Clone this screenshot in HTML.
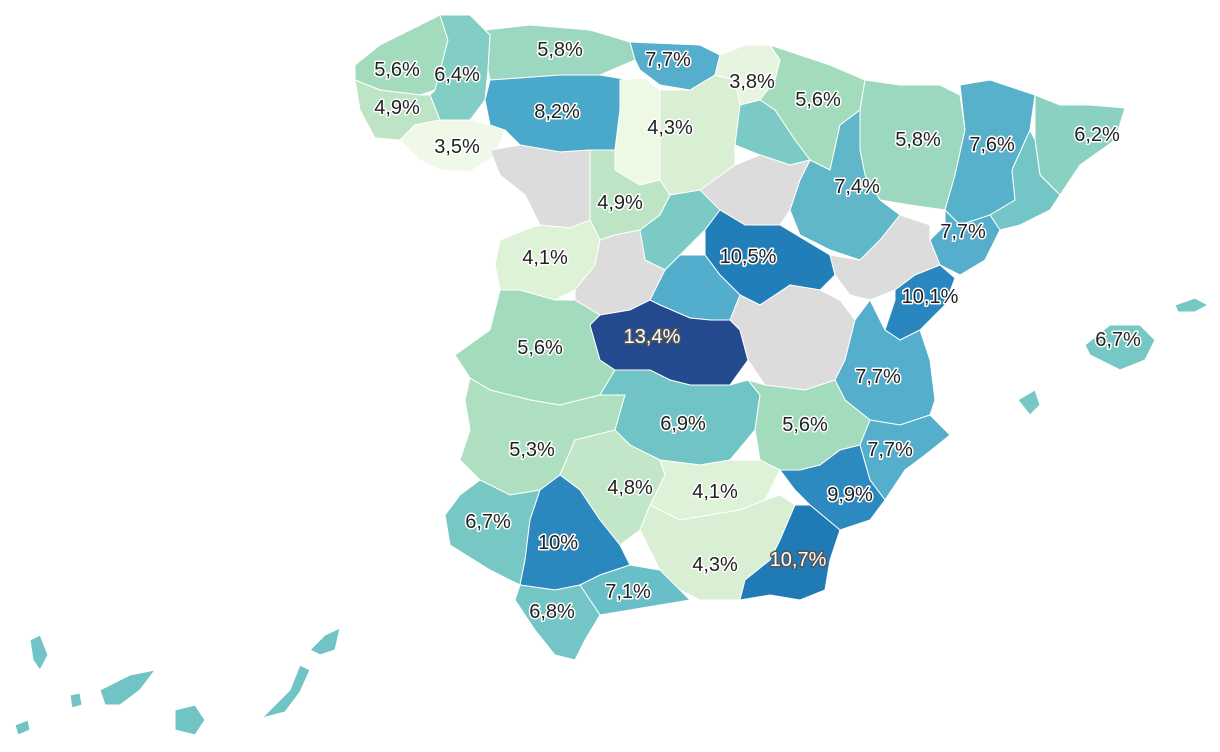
<!DOCTYPE html>
<html>
<head>
<meta charset="utf-8">
<style>
html,body{margin:0;padding:0;background:#fff;}
svg{display:block;}
text{font-family:"Liberation Sans",sans-serif;font-size:20px;text-anchor:middle;dominant-baseline:central;paint-order:stroke;stroke-linejoin:round;}
</style>
</head>
<body>
<svg id="map" width="1220" height="752" viewBox="0 0 1220 752"></svg>
<script>
// data
const provinces = ["coruna","lugo","pontevedra","ourense","asturias","cantabria","leon","palencia","burgos","bizkaia","navarra","rioja","huesca","zaragoza","lleida","girona","barcelona","tarragona","zamora","valladolid","soria","segovia","salamanca","avila","guadalajara","madrid","teruel","castellon","caceres","toledo","cuenca","valencia","badajoz","ciudadreal","albacete","alicante","murcia","cordoba","jaen","huelva","sevilla","granada","almeria","malaga","cadiz","baleares","canarias"];
const values = [5.6,6.4,4.9,3.5,5.8,7.7,8.2,3.6,4.3,3.8,5.6,6.6,5.8,7.4,7.6,6.2,6.8,7.7,null,4.9,null,6.6,4.1,null,10.5,7.8,null,10.1,5.6,13.4,null,7.7,5.3,6.9,5.6,7.7,9.9,4.8,4.1,6.7,10,4.3,10.7,7.1,6.8,6.7,6.9];
const shownLabels = ["5,6%","6,4%","4,9%","3,5%","5,8%","7,7%","8,2%","","4,3%","3,8%","5,6%","","5,8%","7,4%","7,6%","6,2%","","7,7%","","4,9%","","","4,1%","","10,5%","","","10,1%","5,6%","13,4%","","7,7%","5,3%","6,9%","5,6%","7,7%","9,9%","4,8%","4,1%","6,7%","10%","4,3%","10,7%","7,1%","6,8%","6,7%",""];

// geometry (not data)
const shapes = {
coruna:[[355,65,380,45,410,30,440,15,448,40,435,90,420,95,380,90,355,80]],
lugo:[[440,15,470,15,490,35,488,70,485,100,470,120,440,120,430,95,435,90,448,40]],
pontevedra:[[355,80,380,90,420,95,430,95,440,120,415,125,400,140,375,138,360,110]],
ourense:[[415,125,440,120,470,120,490,125,505,130,495,155,470,172,440,170,420,160,400,140]],
asturias:[[485,30,530,25,590,30,630,42,635,60,600,75,560,75,520,78,490,80,488,70,490,35]],
cantabria:[[630,42,700,45,720,55,715,75,690,90,660,85,640,70,635,60]],
leon:[[490,80,520,78,560,75,600,75,630,80,620,110,615,150,590,150,560,152,520,145,505,130,490,125,485,100]],
palencia:[[620,80,645,78,660,90,660,140,660,180,640,185,615,170,615,150,620,110]],
burgos:[[660,90,690,90,715,75,735,80,740,105,735,145,735,165,700,190,670,195,660,180,660,140]],
bizkaia:[[720,55,745,45,770,45,780,60,775,80,760,100,740,105,735,80,715,75]],
navarra:[[770,45,800,55,830,65,865,80,860,110,840,125,830,170,810,160,795,140,775,110,760,100,775,80,780,60]],
rioja:[[740,105,760,100,775,110,795,140,810,160,790,165,760,155,735,145]],
huesca:[[865,80,900,85,940,85,960,95,965,130,955,175,945,210,910,205,880,200,865,175,860,150,860,110]],
zaragoza:[[840,125,860,110,860,150,865,175,880,200,900,215,880,240,860,260,830,250,800,235,790,210,800,180,810,160,830,170]],
lleida:[[960,85,990,80,1035,95,1030,130,1012,170,1015,200,990,215,960,225,945,210,955,175,965,130]],
girona:[[1035,95,1060,105,1090,105,1125,108,1115,140,1080,165,1060,195,1040,175,1035,140]],
barcelona:[[1035,140,1040,175,1060,195,1050,210,1020,225,1000,230,990,215,1015,200,1012,170,1030,130]],
tarragona:[[945,210,960,225,990,215,1000,230,985,260,960,275,940,265,930,240,945,225]],
zamora:[[490,150,520,145,560,152,590,150,590,185,590,220,570,228,540,225,525,195,500,175]],
valladolid:[[590,150,615,150,615,170,640,185,660,180,670,195,660,215,640,230,615,235,600,240,590,220,590,185]],
soria:[[700,190,735,165,760,155,790,165,810,160,800,180,790,210,780,225,745,225,720,210]],
segovia:[[660,215,670,195,700,190,720,210,705,230,680,255,665,270,645,260,640,230]],
salamanca:[[500,240,525,230,540,225,570,228,590,220,600,240,595,265,575,290,555,300,520,290,500,290,495,265]],
avila:[[600,240,615,235,640,230,645,260,665,270,650,300,630,310,600,315,575,300,575,290,595,265]],
guadalajara:[[705,230,720,210,745,225,780,225,805,240,830,255,835,275,820,290,790,285,760,305,740,295,720,275,705,255]],
madrid:[[665,270,680,255,705,255,720,275,740,295,730,320,710,320,690,318,660,305,650,300]],
teruel:[[830,255,860,260,880,240,900,215,930,225,930,240,940,265,915,275,895,290,870,300,850,295,835,275]],
castellon:[[915,275,940,265,955,278,945,305,920,330,900,340,885,330,895,300,895,290]],
caceres:[[455,355,490,330,500,290,520,290,555,300,575,300,600,315,590,325,600,360,615,370,600,395,560,405,530,400,490,390,470,378]],
toledo:[[600,315,630,310,650,300,660,305,690,318,710,320,730,320,740,330,748,360,730,385,690,385,670,380,650,370,615,370,600,360,590,325]],
cuenca:[[740,295,760,305,790,285,820,290,840,300,855,320,845,360,835,380,805,390,765,385,748,360,740,330,730,320]],
valencia:[[855,320,870,300,885,330,900,340,920,330,930,360,935,400,930,415,900,425,870,420,845,400,835,380,845,360]],
badajoz:[[470,378,490,390,530,400,560,405,600,395,625,395,615,430,575,440,560,475,540,490,510,495,480,480,460,460,470,430,465,400]],
ciudadreal:[[615,370,650,370,670,380,690,385,730,385,748,380,760,395,755,430,730,460,700,465,660,460,630,445,615,430,625,395,600,395]],
albacete:[[748,380,765,385,805,390,835,380,845,400,870,420,860,445,840,450,820,465,800,470,780,470,760,460,755,430,760,395]],
alicante:[[870,420,900,425,930,415,950,435,925,455,905,470,885,500,870,480,860,445]],
murcia:[[860,445,870,480,885,500,870,520,840,530,810,505,795,490,780,470,800,470,820,465,840,450]],
cordoba:[[575,440,615,430,630,445,660,460,665,475,650,505,640,530,620,545,600,520,580,490,560,475]],
jaen:[[660,460,700,465,730,460,760,460,780,470,765,500,740,510,710,515,680,520,650,505,665,475]],
huelva:[[460,495,480,480,510,495,540,490,530,520,525,560,520,585,490,570,450,545,445,515]],
sevilla:[[540,490,560,475,580,490,600,520,620,545,630,565,600,575,580,585,555,590,520,585,525,560,530,520]],
granada:[[650,505,680,520,710,515,740,510,765,500,780,495,795,505,780,540,770,560,745,580,740,600,700,600,680,590,660,570,640,530]],
almeria:[[795,505,810,505,840,530,830,560,825,590,800,600,770,595,740,600,745,580,770,560,780,540]],
malaga:[[580,585,600,575,630,565,660,570,680,590,690,600,660,605,630,610,600,615,590,600]],
cadiz:[[520,585,555,590,580,585,590,600,600,615,585,640,575,660,555,655,535,630,515,600]],
baleares:[[1085,345,1110,325,1140,325,1155,340,1145,360,1120,370,1090,355],[1175,305,1195,298,1208,305,1195,312,1178,312],[1018,400,1035,390,1040,405,1030,415]],
canarias:[[100,690,130,675,155,670,140,690,120,705,105,705],[175,710,195,705,205,720,195,735,175,730],[262,718,290,690,300,665,310,670,300,692,285,712],[310,650,325,635,340,628,335,650,320,655],[30,640,40,635,48,655,40,670,33,660],[70,695,80,693,82,705,72,708],[15,725,28,720,30,730,18,735]]
};
const labelPos = {coruna:[397,70],lugo:[457,75],pontevedra:[397,108],ourense:[457,147],asturias:[560,50],cantabria:[668,60],leon:[557,112],burgos:[670,128],bizkaia:[752,82],navarra:[818,100],huesca:[918,140],zaragoza:[857,187],lleida:[992,145],girona:[1097,135],tarragona:[963,232],valladolid:[620,203],salamanca:[545,258],guadalajara:[748,257],castellon:[930,297],caceres:[540,348],toledo:[652,337],valencia:[878,377],badajoz:[532,450],ciudadreal:[683,424],albacete:[805,425],alicante:[890,450],murcia:[850,495],cordoba:[630,488],jaen:[715,492],huelva:[488,522],sevilla:[558,543],granada:[715,565],almeria:[798,560],malaga:[628,592],cadiz:[552,612],baleares:[1118,340]};

const stops=[[3.5,[240,249,232]],[4.3,[216,239,211]],[5.0,[185,227,195]],[5.6,[163,219,189]],[6.4,[130,206,196]],[7.0,[108,194,198]],[7.7,[85,174,204]],[8.2,[74,168,203]],[10,[43,136,191]],[10.7,[31,122,181]],[13.4,[35,74,143]]];
function colorScale(v){
  if(v===null) return "#dcdcdc";
  if(v<=stops[0][0]) return "rgb("+stops[0][1]+")";
  for(let i=1;i<stops.length;i++){
    if(v<=stops[i][0]){
      const a=stops[i-1],b=stops[i],t=(v-a[0])/(b[0]-a[0]);
      return "rgb("+a[1].map((c,k)=>Math.round(c+(b[1][k]-c)*t)).join(",")+")";
    }
  }
  return "rgb("+stops[stops.length-1][1]+")";
}
const NS="http://www.w3.org/2000/svg";
const svg=document.getElementById("map");
const gP=document.createElementNS(NS,"g");
const gL=document.createElementNS(NS,"g");
svg.appendChild(gP);svg.appendChild(gL);
provinces.forEach((p,i)=>{
  const fill=colorScale(values[i]);
  shapes[p].forEach(poly=>{
    const el=document.createElementNS(NS,"polygon");
    
    
    el.setAttribute("points",poly.join(" "));
    el.setAttribute("fill",fill);
    el.setAttribute("stroke","#ffffff");
    el.setAttribute("stroke-width","1");
    gP.appendChild(el);
  });
  if(shownLabels[i] && labelPos[p]){
    const t=document.createElementNS(NS,"text");
    
    
    t.setAttribute("x",labelPos[p][0]);
    t.setAttribute("y",labelPos[p][1]);
    const dark=values[i]!==null && values[i]>=10.7;
    t.setAttribute("fill",dark?"#ffffff":"#222222");
    t.setAttribute("stroke",dark?"#555555":"#ffffff");
    t.setAttribute("stroke-width","3");
    t.textContent=shownLabels[i];
    gL.appendChild(t);
  }
});
</script>
</body>
</html>
